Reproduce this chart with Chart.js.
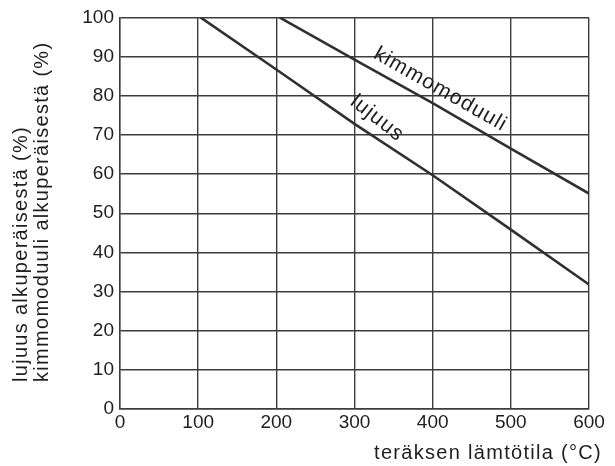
<!DOCTYPE html>
<html>
<head>
<meta charset="utf-8">
<script src="https://cdn.jsdelivr.net/npm/chart.js@4/dist/chart.umd.min.js"></script>
<style>
  html, body { margin: 0; padding: 0; background: #fff; }
</style>
</head>
<body>
<canvas id="chart" width="615" height="466"></canvas>
<script>
/* ── Données ── */
const xTicks = [0, 100, 200, 300, 400, 500, 600];
const yTicks = [0, 10, 20, 30, 40, 50, 60, 70, 80, 90, 100];

const lujuusTemp = [103, 200, 300, 400, 500, 600];
const lujuusPct  = [100, 86.7, 72.8, 59.7, 45.8, 31.8];

const kimmoTemp = [204, 300, 400, 500, 600];
const kimmoPct  = [100, 89.2, 78.1, 66.5, 55];

const seriesNames = ['lujuus', 'kimmomoduuli'];
const xTitle = 'teräksen lämtötila (°C)';
const yTitle = ['lujuus alkuperäisestä (%)', 'kimmomoduuli alkuperäisestä (%)'];

/* ── Styles ── */
const INK = '#1e1e1e';
const GRID = '#3d3d3d';
const FONT = '"Liberation Sans", Arial, Helvetica, sans-serif';

// where the series names sit along their curves (data coords)
const LABEL_AT = [
  { series: 0, x: 329, y: 74.2, tilt: 0.06 },
  { series: 1, x: 410, y: 81.6, tilt: 0 },
];

const toPoints = (xs, ys) => xs.map((x, i) => ({ x, y: ys[i] }));
const seriesData = [toPoints(lujuusTemp, lujuusPct), toPoints(kimmoTemp, kimmoPct)];

/* ── Noms des courbes, inclinés le long de la ligne ── */
const curveLabels = {
  id: 'curveLabels',
  afterDatasetsDraw(chart) {
    const { ctx, scales: { x, y } } = chart;
    ctx.save();
    ctx.fillStyle = INK;
    ctx.font = '21px ' + FONT;
    ctx.letterSpacing = '1.2px';
    ctx.textAlign = 'center';
    ctx.textBaseline = 'middle';
    LABEL_AT.forEach(l => {
      const pts = seriesData[l.series];
      const a = pts[0], b = pts[pts.length - 1];
      const ang = Math.atan2(
        y.getPixelForValue(b.y) - y.getPixelForValue(a.y),
        x.getPixelForValue(b.x) - x.getPixelForValue(a.x));
      ctx.save();
      ctx.translate(x.getPixelForValue(l.x), y.getPixelForValue(l.y));
      ctx.rotate(ang + l.tilt);
      ctx.fillText(seriesNames[l.series], 0, 0);
      ctx.restore();
    });
    ctx.restore();
  }
};

/* ── Titres des axes ── */
const axisTitles = {
  id: 'axisTitles',
  afterDraw(chart) {
    const { ctx, chartArea } = chart;
    ctx.save();
    ctx.fillStyle = INK;
    ctx.font = '20px ' + FONT;
    ctx.letterSpacing = '1.3px';
    ctx.textBaseline = 'middle';
    // y : deux lignes, alignées en bas
    [21, 42].forEach((cx, i) => {
      ctx.save();
      ctx.translate(cx, chartArea.bottom - 27);
      ctx.rotate(-Math.PI / 2);
      ctx.textAlign = 'left';
      ctx.fillText(yTitle[i], 0, 0);
      ctx.restore();
    });
    // x : à droite
    ctx.textAlign = 'right';
    ctx.fillText(xTitle, 602, 453);
    ctx.restore();
  }
};

new Chart(document.getElementById('chart'), {
  type: 'line',
  data: {
    datasets: seriesData.map((d, i) => ({
      label: seriesNames[i],
      data: d,
      borderColor: '#303030',
      borderWidth: 2.6,
      pointRadius: 0,
      tension: 0,
      fill: false,
    }))
  },
  options: {
    responsive: false,
    animation: false,
    layout: { padding: { left: 0, right: 26, top: 14, bottom: 0 } },
    plugins: { legend: { display: false }, tooltip: { enabled: false } },
    scales: {
      x: {
        type: 'linear', min: 0, max: 600,
        afterBuildTicks: s => { s.ticks = xTicks.map(v => ({ value: v })); },
        afterFit: s => { s.height = 57; },
        grid: { color: GRID, lineWidth: 1.4, drawTicks: false },
        border: { color: GRID, width: 1.4 },
        ticks: { color: INK, font: { family: FONT, size: 19 }, padding: 2, maxRotation: 0 },
      },
      y: {
        min: 0, max: 100,
        afterBuildTicks: s => { s.ticks = yTicks.map(v => ({ value: v })); },
        afterFit: s => { s.width = 120; },
        grid: { color: GRID, lineWidth: 1.4, drawTicks: false },
        border: { color: GRID, width: 1.4 },
        ticks: { color: INK, font: { family: FONT, size: 19 }, padding: 6 },
      }
    }
  },
  plugins: [curveLabels, axisTitles]
});
</script>
</body>
</html>
